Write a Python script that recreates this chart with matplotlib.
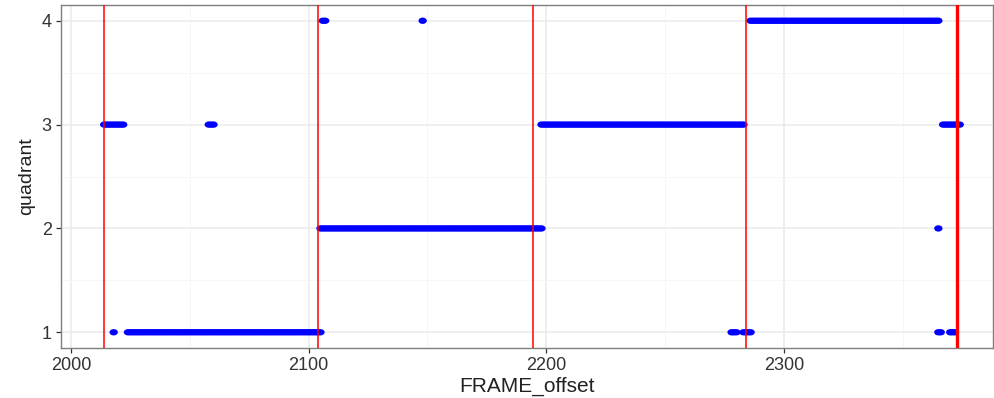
import numpy as np
import matplotlib
matplotlib.use("Agg")
import matplotlib.pyplot as plt
from matplotlib.path import Path

plt.rcParams['font.family'] = ['Liberation Sans', 'DejaVu Sans']

# Runs of consecutive frames observed in each quadrant (start frame, end frame, quadrant)
run_start = [2014, 2018, 2024, 2058, 2106, 2148, 2105, 2198, 2278, 2283, 2286, 2365, 2367, 2365, 2370]
run_end   = [2022, 2018, 2105, 2060, 2107, 2148, 2198, 2283, 2280, 2286, 2365, 2365, 2374, 2366, 2372]
run_quad  = [3,    1,    1,    3,    4,    4,    2,    3,    1,    1,    4,    2,    3,    1,    1]

# Segment boundaries (red vertical lines)
boundaries = [2014, 2104, 2194.5, 2284, 2373]
boundary_widths = [1.1, 1.1, 1.1, 1.1, 2.4]

x_ticks = [2000, 2100, 2200, 2300]
y_ticks = [1, 2, 3, 4]

frames, quads = [], []
for s, e, q in zip(run_start, run_end, run_quad):
    f = np.arange(s, e + 1)
    frames.extend(f)
    quads.extend([q] * len(f))

# slightly wide elliptical dot (reference image is horizontally stretched)
t = np.linspace(0, 2 * np.pi, 41)
ellipse = Path(np.column_stack([np.cos(t), 0.76 * np.sin(t)]), closed=True)

fig = plt.figure(figsize=(9.95, 3.98), dpi=100)
ax = fig.add_axes([0.061, 0.126, 0.937, 0.861])

ax.set_xlim(1995.7, 2388)
ax.set_ylim(0.85, 4.15)

ax.set_xticks(x_ticks)
ax.set_xticks([2050, 2150, 2250, 2350], minor=True)
ax.set_yticks(y_ticks)
ax.set_yticks([1.5, 2.5, 3.5], minor=True)
ax.grid(which='major', color='#EBEBEB', linewidth=1.1, zorder=0)
ax.grid(which='minor', color='#F5F5F5', linewidth=0.6, zorder=0)
ax.set_axisbelow(True)

ax.scatter(frames, quads, s=36, marker=ellipse, color='#0000FF', edgecolors='none', zorder=3)

for b, w in zip(boundaries, boundary_widths):
    ax.axvline(b, color='#FF0000', linewidth=w, zorder=4)

for sp in ax.spines.values():
    sp.set_color('#7F7F7F')
    sp.set_linewidth(1.0)

ax.tick_params(axis='both', which='major', length=3.5, width=0.9, color='#333333',
               labelsize=13, labelcolor='#333333', pad=3)
ax.tick_params(axis='both', which='minor', length=0)

ax.set_xlabel('FRAME_offset', fontsize=15, color='#222222', labelpad=2)
ax.set_ylabel('quadrant', fontsize=14, color='#222222', labelpad=5)

fig.savefig('out.png', dpi=100, facecolor='white')
